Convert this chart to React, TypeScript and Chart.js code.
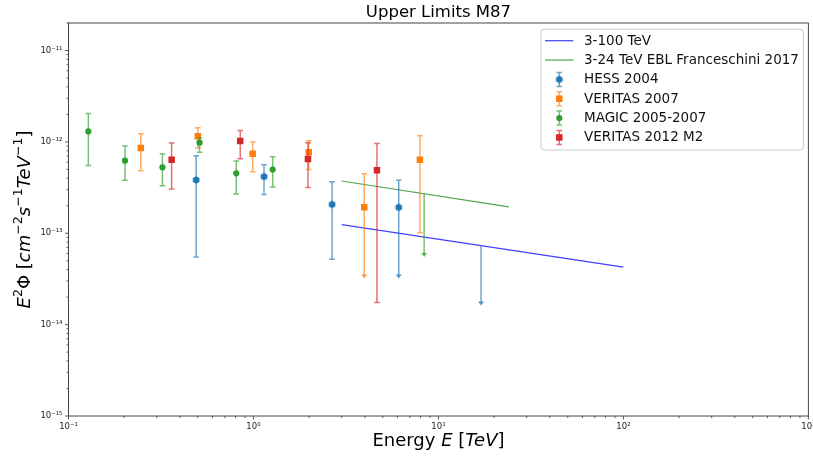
import { useEffect, useRef } from "react";
import { Chart, registerables } from "chart.js";

Chart.register(...registerables);

const FONT = '"DejaVu Sans", "Liberation Sans", sans-serif';

// Axis decades and their labels
const xDecades = [0.1, 1, 10, 100, 1000];
const xTickLabels = ["10⁻¹", "10⁰", "10¹", "10²", "10³"];
const yDecades = [1e-15, 1e-14, 1e-13, 1e-12, 1e-11];
const yTickLabels = ["10⁻¹⁵", "10⁻¹⁴", "10⁻¹³", "10⁻¹²", "10⁻¹¹"];
const xRange = [0.1, 1000];
const yRange = [1e-15, 2e-11];

// Power-law upper limit curves (TeV, flux)
const limit3to100Energy = [3, 100];
const limit3to100Flux = [1.245e-13, 4.25e-14];
const limitEblEnergy = [3, 24];
const limitEblFlux = [3.73e-13, 1.94e-13];

// HESS 2004
const hessEnergy = [0.49, 1.14, 2.66, 6.1];
const hessFlux = [3.83e-13, 4.17e-13, 2.07e-13, 1.92e-13];
const hessHigh = [7.06e-13, 5.63e-13, 3.67e-13, 3.8e-13];
const hessLow = [5.5e-14, 2.65e-13, 5.2e-14, 3.2e-14];
const hessLowIsLimit = [false, false, false, true];
const hessLimitEnergy = [17.0];
const hessLimitFrom = [7.3e-14];
const hessLimitTo = [1.62e-14];

// VERITAS 2007
const veritas07Energy = [0.246, 0.5, 0.99, 1.99, 3.97, 7.94];
const veritas07Flux = [8.56e-13, 1.15e-12, 7.43e-13, 7.68e-13, 1.92e-13, 6.39e-13];
const veritas07High = [1.23e-12, 1.43e-12, 9.95e-13, 1.03e-12, 4.49e-13, 1.17e-12];
const veritas07Low = [4.84e-13, 8.56e-13, 4.72e-13, 4.97e-13, 3.2e-14, 1.01e-13];
const veritas07LowIsLimit = [false, false, false, false, true, false];

// MAGIC 2005-2007
const magicEnergy = [0.128, 0.202, 0.322, 0.511, 0.807, 1.27];
const magicFlux = [1.3e-12, 6.23e-13, 5.26e-13, 9.8e-13, 4.53e-13, 4.97e-13];
const magicHigh = [2.05e-12, 9.0e-13, 7.36e-13, 1.11e-12, 6.17e-13, 6.89e-13];
const magicLow = [5.5e-13, 3.8e-13, 3.32e-13, 7.68e-13, 2.69e-13, 3.21e-13];
const magicLimitEnergy = [8.37];
const magicLimitFrom = [2.7e-13];
const magicLimitTo = [5.5e-14];

// VERITAS 2012 M2
const veritas12Energy = [0.361, 0.848, 1.97, 4.65];
const veritas12Flux = [6.39e-13, 1.02e-12, 6.49e-13, 4.88e-13];
const veritas12High = [9.7e-13, 1.33e-12, 9.8e-13, 9.6e-13];
const veritas12Low = [3.05e-13, 6.55e-13, 3.16e-13, 1.75e-14];

const TAB_BLUE = "#1f77b4";
const TAB_ORANGE = "#ff7f0e";
const TAB_GREEN = "#2ca02c";
const TAB_RED = "#d62728";

function withAlpha(hex: string, a: number) {
  const n = parseInt(hex.slice(1), 16);
  return `rgba(${(n >> 16) & 255},${(n >> 8) & 255},${n & 255},${a})`;
}

function hexagonMarker(color: string, r: number) {
  const c = document.createElement("canvas");
  const s = Math.ceil(2 * r + 2);
  c.width = s;
  c.height = s;
  const g = c.getContext("2d")!;
  g.fillStyle = color;
  g.beginPath();
  for (let k = 0; k < 6; k++) {
    const ang = -Math.PI / 2 + (k * Math.PI) / 3;
    g.lineTo(s / 2 + r * Math.cos(ang), s / 2 + r * Math.sin(ang));
  }
  g.closePath();
  g.fill();
  return c;
}

function minorTicks(decades: number[], max: number) {
  const out: number[] = [];
  decades.forEach((d) => {
    for (let m = 1; m <= 9; m++) {
      const v = m * d;
      if (v <= max * 1.0000001) out.push(v);
    }
  });
  return out;
}

function decadeIndex(value: number, decades: number[]) {
  return decades.findIndex((d) => Math.abs(Math.log10(value / d)) < 1e-6);
}

type Bar = { x: number; hi: number; lo: number; arrow: boolean; capTop: boolean };

function bars(e: number[], hi: number[], lo: number[], arrow?: boolean[]): Bar[] {
  return e.map((x, i) => ({ x, hi: hi[i], lo: lo[i], arrow: arrow ? arrow[i] : false, capTop: true }));
}
function limitBars(e: number[], from: number[], to: number[]): Bar[] {
  return e.map((x, i) => ({ x, hi: from[i], lo: to[i], arrow: true, capTop: false }));
}

function drawBar(ctx: CanvasRenderingContext2D, px: number, top: number, bot: number, b: Bar) {
  const cap = 2.8;
  ctx.beginPath();
  ctx.moveTo(px, top);
  ctx.lineTo(px, b.arrow ? bot - 3 : bot);
  if (b.capTop) {
    ctx.moveTo(px - cap, top);
    ctx.lineTo(px + cap, top);
  }
  if (!b.arrow) {
    ctx.moveTo(px - cap, bot);
    ctx.lineTo(px + cap, bot);
  }
  ctx.stroke();
  if (b.arrow) {
    ctx.beginPath();
    ctx.moveTo(px - 3, bot - 4);
    ctx.lineTo(px + 3, bot - 4);
    ctx.lineTo(px, bot);
    ctx.closePath();
    ctx.fill();
  }
}

const errorBarPlugin = {
  id: "errorBars",
  beforeDatasetDraw(chart: any, args: any) {
    const ds = chart.data.datasets[args.index];
    const list: Bar[] | undefined = ds.errorBars;
    if (!list) return;
    const { ctx, scales } = chart;
    ctx.save();
    ctx.strokeStyle = withAlpha(ds.baseColor, 0.65);
    ctx.fillStyle = withAlpha(ds.baseColor, 0.75);
    ctx.lineWidth = 1.5;
    list.forEach((b) => {
      const px = scales.x.getPixelForValue(b.x);
      drawBar(ctx, px, scales.y.getPixelForValue(b.hi), scales.y.getPixelForValue(b.lo), b);
    });
    ctx.restore();
  },
};

type Seg = { t: string; it?: boolean; sup?: boolean };

function drawRich(ctx: CanvasRenderingContext2D, segs: Seg[], size: number, cx: number, baseline: number) {
  const fontFor = (s: Seg) => `${s.it ? "italic " : ""}${s.sup ? size * 0.7 : size}px ${FONT}`;
  let w = 0;
  segs.forEach((s) => {
    ctx.font = fontFor(s);
    w += ctx.measureText(s.t).width;
  });
  let x = cx - w / 2;
  ctx.textAlign = "left";
  ctx.textBaseline = "alphabetic";
  segs.forEach((s) => {
    ctx.font = fontFor(s);
    ctx.fillText(s.t, x, s.sup ? baseline - size * 0.42 : baseline);
    x += ctx.measureText(s.t).width;
  });
}

const yLabel: Seg[] = [
  { t: "E", it: true },
  { t: "2", sup: true },
  { t: "Φ " },
  { t: "[" },
  { t: "cm", it: true },
  { t: "−2", sup: true },
  { t: "s", it: true },
  { t: "−1", sup: true },
  { t: "TeV", it: true },
  { t: "−1", sup: true },
  { t: "]" },
];
const xLabel: Seg[] = [{ t: "Energy " }, { t: "E", it: true }, { t: " [" }, { t: "TeV", it: true }, { t: "]" }];

const chromePlugin = {
  id: "chrome",
  afterDraw(chart: any) {
    const { ctx, chartArea: a, scales } = chart;
    ctx.save();
    // tick marks, longer on decades
    ctx.strokeStyle = "#333";
    ctx.lineWidth = 0.8;
    ctx.beginPath();
    scales.x.ticks.forEach((t: any) => {
      const px = scales.x.getPixelForValue(t.value);
      const len = decadeIndex(t.value, xDecades) >= 0 ? 3.5 : 2;
      ctx.moveTo(px, a.bottom);
      ctx.lineTo(px, a.bottom + len);
    });
    scales.y.ticks.forEach((t: any) => {
      const py = scales.y.getPixelForValue(t.value);
      const len = decadeIndex(t.value, yDecades) >= 0 ? 3.5 : 2;
      ctx.moveTo(a.left, py);
      ctx.lineTo(a.left - len, py);
    });
    ctx.stroke();

    // axes frame
    ctx.strokeStyle = "#444";
    ctx.lineWidth = 1;
    ctx.strokeRect(a.left, a.top, a.right - a.left, a.bottom - a.top);

    // title and axis labels
    ctx.fillStyle = "#000";
    const cx = (a.left + a.right) / 2;
    drawRich(ctx, [{ t: "Upper Limits M87" }], 16.5, cx, 16.5);
    drawRich(ctx, xLabel, 18, cx, 446);
    ctx.save();
    ctx.translate(30, (a.top + a.bottom) / 2);
    ctx.rotate(-Math.PI / 2);
    drawRich(ctx, yLabel, 18, 0, 0);
    ctx.restore();

    // legend
    const lx = 541,
      ly = 29.3,
      lw = 262.3,
      lh = 120.7;
    ctx.beginPath();
    ctx.roundRect(lx, ly, lw, lh, 3);
    ctx.fillStyle = "rgba(255,255,255,0.8)";
    ctx.fill();
    ctx.strokeStyle = "#cccccc";
    ctx.lineWidth = 1;
    ctx.stroke();
    const rowStart = 40.7,
      rowStep = 19.35,
      hx = 559.3;
    chart.data.datasets.forEach((ds: any, i: number) => {
      const y = rowStart + i * rowStep;
      if (ds.type === "line") {
        ctx.strokeStyle = ds.borderColor;
        ctx.lineWidth = ds.borderWidth;
        ctx.beginPath();
        ctx.moveTo(545, y);
        ctx.lineTo(573.3, y);
        ctx.stroke();
      } else {
        ctx.strokeStyle = withAlpha(ds.baseColor, 0.65);
        ctx.lineWidth = 1.5;
        drawBar(ctx, hx, y - 7, y + 7, { x: 0, hi: 0, lo: 0, arrow: false, capTop: true });
        ctx.fillStyle = ds.baseColor;
        if (ds.pointStyle === "rect") {
          const h = ds.pointRadius * Math.SQRT1_2;
          ctx.fillRect(hx - h, y - h, 2 * h, 2 * h);
        } else if (ds.pointStyle === "circle") {
          ctx.beginPath();
          ctx.arc(hx, y, ds.pointRadius, 0, Math.PI * 2);
          ctx.fill();
        } else {
          const img = ds.pointStyle as HTMLCanvasElement;
          ctx.drawImage(img, hx - img.width / 2, y - img.height / 2);
        }
      }
      ctx.fillStyle = "#111";
      ctx.font = `13.5px ${FONT}`;
      ctx.textAlign = "left";
      ctx.textBaseline = "middle";
      ctx.fillText(ds.label, 584, y + 0.5);
    });
    ctx.restore();
  },
};

const pts = (e: number[], f: number[]) => e.map((x, i) => ({ x, y: f[i] }));

export default function App() {
  const ref = useRef<HTMLCanvasElement | null>(null);

  useEffect(() => {
    if (!ref.current) return;
    const hexagon = hexagonMarker(TAB_BLUE, 3.8);
    const chart = new Chart(ref.current, {
      type: "scatter",
      data: {
        datasets: [
          {
            type: "line",
            label: "3-100 TeV",
            data: pts(limit3to100Energy, limit3to100Flux),
            borderColor: "rgba(0,0,255,0.75)",
            borderWidth: 1.2,
            pointRadius: 0,
            order: 6,
          },
          {
            type: "line",
            label: "3-24 TeV EBL Franceschini 2017",
            data: pts(limitEblEnergy, limitEblFlux),
            borderColor: "rgba(0,128,0,0.7)",
            borderWidth: 1.2,
            pointRadius: 0,
            order: 5,
          },
          {
            label: "HESS 2004",
            data: pts(hessEnergy, hessFlux),
            baseColor: TAB_BLUE,
            pointStyle: hexagon,
            pointRadius: 3.8,
            backgroundColor: TAB_BLUE,
            borderWidth: 0,
            errorBars: [
              ...bars(hessEnergy, hessHigh, hessLow, hessLowIsLimit),
              ...limitBars(hessLimitEnergy, hessLimitFrom, hessLimitTo),
            ],
            order: 4,
          },
          {
            label: "VERITAS 2007",
            data: pts(veritas07Energy, veritas07Flux),
            baseColor: TAB_ORANGE,
            pointStyle: "rect",
            pointRadius: 4.6,
            backgroundColor: TAB_ORANGE,
            borderWidth: 0,
            errorBars: bars(veritas07Energy, veritas07High, veritas07Low, veritas07LowIsLimit),
            order: 3,
          },
          {
            label: "MAGIC 2005-2007",
            data: pts(magicEnergy, magicFlux),
            baseColor: TAB_GREEN,
            pointStyle: "circle",
            pointRadius: 3.1,
            backgroundColor: TAB_GREEN,
            borderWidth: 0,
            errorBars: [
              ...bars(magicEnergy, magicHigh, magicLow),
              ...limitBars(magicLimitEnergy, magicLimitFrom, magicLimitTo),
            ],
            order: 2,
          },
          {
            label: "VERITAS 2012 M2",
            data: pts(veritas12Energy, veritas12Flux),
            baseColor: TAB_RED,
            pointStyle: "rect",
            pointRadius: 4.6,
            backgroundColor: TAB_RED,
            borderWidth: 0,
            errorBars: bars(veritas12Energy, veritas12High, veritas12Low),
            order: 1,
          },
        ] as any,
      },
      options: {
        responsive: true,
        maintainAspectRatio: false,
        animation: false,
        devicePixelRatio: 1,
        events: [],
        layout: { padding: { top: 23, right: 3, left: 0, bottom: 0 } },
        plugins: {
          legend: { display: false },
          title: { display: false },
          tooltip: { enabled: false },
        },
        scales: {
          x: {
            type: "logarithmic",
            position: "bottom",
            min: xRange[0],
            max: xRange[1],
            afterBuildTicks: (s: any) => {
              s.ticks = minorTicks(xDecades, xRange[1]).map((v) => ({ value: v }));
            },
            afterFit: (s: any) => {
              s.height = 41;
              s.paddingLeft = 0;
              s.paddingRight = 0;
            },
            grid: {
              display: true,
              drawOnChartArea: false,
              drawTicks: true,
              tickLength: 4,
              color: "rgba(0,0,0,0)",
              tickColor: "rgba(0,0,0,0)",
            },
            border: { display: false },
            ticks: {
              autoSkip: false,
              maxRotation: 0,
              padding: 2,
              color: "#222",
              font: { size: 8.5, family: FONT },
              callback: (v: any) => {
                const i = decadeIndex(Number(v), xDecades);
                return i >= 0 ? xTickLabels[i] : "";
              },
            },
          },
          y: {
            type: "logarithmic",
            min: yRange[0],
            max: yRange[1],
            afterBuildTicks: (s: any) => {
              s.ticks = minorTicks(yDecades, yRange[1]).map((v) => ({ value: v }));
            },
            afterFit: (s: any) => {
              s.width = 68.5;
              s.paddingTop = 0;
              s.paddingBottom = 0;
            },
            grid: {
              display: true,
              drawOnChartArea: false,
              drawTicks: true,
              tickLength: 4,
              color: "rgba(0,0,0,0)",
              tickColor: "rgba(0,0,0,0)",
            },
            border: { display: false },
            ticks: {
              autoSkip: false,
              padding: 2,
              color: "#222",
              font: { size: 8.5, family: FONT },
              callback: (v: any) => {
                const i = decadeIndex(Number(v), yDecades);
                return i >= 0 ? yTickLabels[i] : "";
              },
            },
          },
        },
      } as any,
      plugins: [errorBarPlugin, chromePlugin],
    });
    return () => chart.destroy();
  }, []);

  return (
    <div style={{ position: "fixed", left: 0, top: 0, width: 813, height: 457, background: "#fff" }}>
      <canvas ref={ref} />
    </div>
  );
}
